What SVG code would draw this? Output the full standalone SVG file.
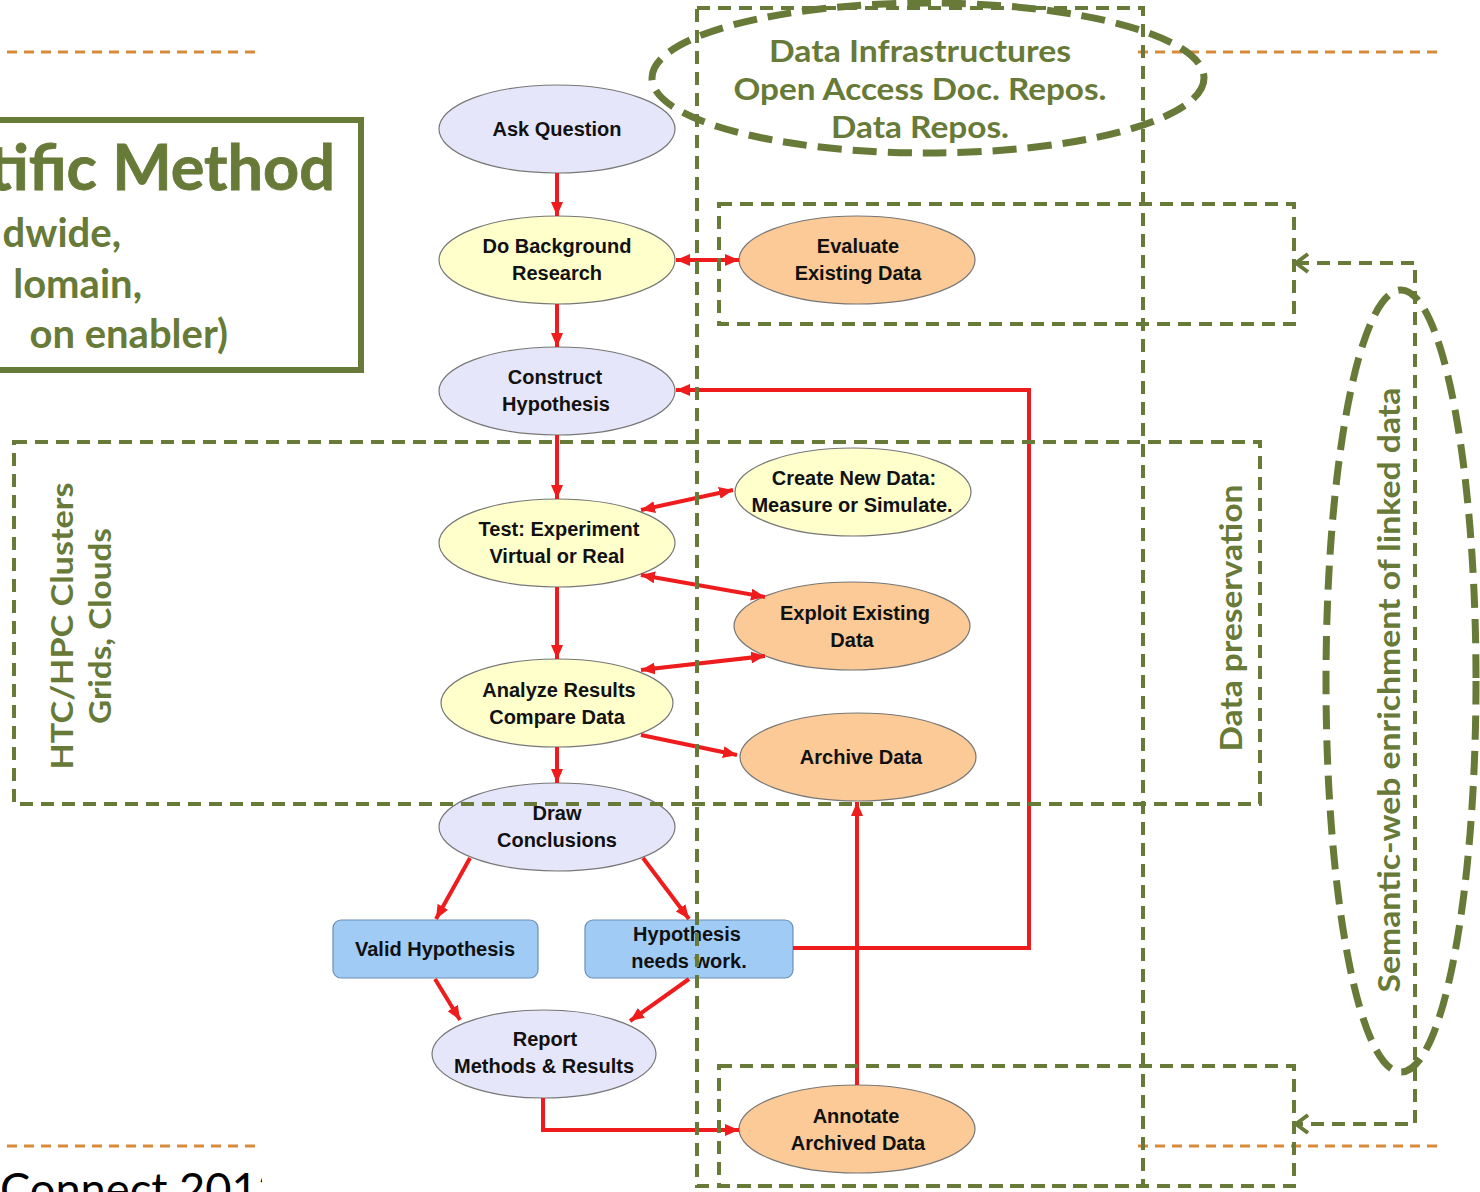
<svg xmlns="http://www.w3.org/2000/svg" width="1480" height="1192" viewBox="0 0 1480 1192">
<style>
.g{fill:#677A38;font-family:Lato,"Open Sans","DejaVu Sans",sans-serif;font-weight:700}
.gd{fill:none;stroke:#677A38;stroke-width:4;stroke-dasharray:13 8}
.ge{fill:none;stroke:#677A38;stroke-width:7;stroke-dasharray:24 11}
.or{fill:none;stroke:#D98B3A;stroke-width:3;stroke-dasharray:10 7}
.n{font-family:"Liberation Sans",Arial,sans-serif;font-weight:700;font-size:20px;fill:#111;text-anchor:middle}
.lav{fill:#E6E6FA;stroke:#777;stroke-width:1.2}
.yel{fill:#FFFFCC;stroke:#777;stroke-width:1.2}
.org{fill:#FCCA96;stroke:#777;stroke-width:1.2}
.blu{fill:#A0CBF5;stroke:#6A8FB5;stroke-width:1.2}
.r{fill:none;stroke:#EE1C1C;stroke-width:4}
</style>
<defs>
<marker id="ar" viewBox="0 0 14 12" refX="14" refY="6" markerWidth="14" markerHeight="12" markerUnits="userSpaceOnUse" orient="auto-start-reverse"><path d="M0,0 L14,6 L0,12 z" fill="#EE1C1C"/></marker>
<marker id="ga" viewBox="0 0 16 22" refX="14" refY="11" markerWidth="16" markerHeight="22" markerUnits="userSpaceOnUse" orient="auto-start-reverse"><path d="M2,2 L14,11 L2,20" fill="none" stroke="#677A38" stroke-width="4"/></marker>
<clipPath id="cl"><rect x="0" y="1150" width="262" height="50"/></clipPath>
</defs>

<g id="orange-lines">
<line class="or" x1="7" y1="52" x2="260" y2="52"/>
<line class="or" x1="1138" y1="52" x2="1437" y2="52"/>
<line class="or" x1="7" y1="1146" x2="260" y2="1146"/>
<line class="or" x1="1138" y1="1146" x2="1437" y2="1146"/>
</g>

<g id="title">
<rect x="-10" y="120" width="371" height="250" fill="none" stroke="#677A38" stroke-width="6"/>
<text class="g" x="335" y="190" font-size="63" text-anchor="end" stroke="#677A38" stroke-width="0.8">tific Method</text>
<text class="g" x="121" y="247" font-size="40" text-anchor="end">dwide,</text>
<text class="g" x="142" y="298" font-size="40" text-anchor="end">lomain,</text>
<text class="g" x="228" y="348" font-size="40" text-anchor="end">on enabler)</text>
</g>

<g id="footer">
<text x="0" y="1205" font-size="44" fill="#000" font-family="Lato,'Open Sans',sans-serif" textLength="284" lengthAdjust="spacingAndGlyphs" clip-path="url(#cl)">Connect 2013</text>
</g>

<g id="n-ask"><ellipse class="lav" cx="557" cy="129" rx="118" ry="44"/><text class="n" x="557" y="136">Ask Question</text></g>
<g id="n-bg"><ellipse class="yel" cx="557" cy="260" rx="118" ry="44"/><text class="n" x="557" y="253">Do Background</text><text class="n" x="557" y="280">Research</text></g>
<g id="n-hyp"><ellipse class="lav" cx="557" cy="391" rx="118" ry="44"/><text class="n" x="555" y="384">Construct</text><text class="n" x="556" y="411">Hypothesis</text></g>
<g id="n-test"><ellipse class="yel" cx="557" cy="543" rx="118" ry="44"/><text class="n" x="559" y="536">Test: Experiment</text><text class="n" x="557" y="563">Virtual or Real</text></g>
<g id="n-analyze"><ellipse class="yel" cx="557" cy="703" rx="116" ry="44"/><text class="n" x="559" y="697">Analyze Results</text><text class="n" x="557" y="724">Compare Data</text></g>
<g id="n-draw"><ellipse class="lav" cx="557" cy="827" rx="118" ry="44"/><text class="n" x="557" y="820">Draw</text><text class="n" x="557" y="847">Conclusions</text></g>
<g id="n-valid"><rect class="blu" x="333" y="920" width="205" height="58" rx="8"/><text class="n" x="435" y="956">Valid Hypothesis</text></g>
<g id="n-needs"><rect class="blu" x="585" y="920" width="208" height="58" rx="8"/><text class="n" x="687" y="941">Hypothesis</text><text class="n" x="689" y="968">needs work.</text></g>
<g id="n-report"><ellipse class="lav" cx="544" cy="1054" rx="112" ry="44"/><text class="n" x="545" y="1046">Report</text><text class="n" x="544" y="1073">Methods &amp; Results</text></g>
<g id="n-eval"><ellipse class="org" cx="857" cy="260" rx="118" ry="44"/><text class="n" x="858" y="253">Evaluate</text><text class="n" x="858" y="280">Existing Data</text></g>
<g id="n-create"><ellipse class="yel" cx="853" cy="492" rx="118" ry="44"/><text class="n" x="854" y="485">Create New Data:</text><text class="n" x="852" y="512">Measure or Simulate.</text></g>
<g id="n-exploit"><ellipse class="org" cx="852" cy="626" rx="118" ry="44"/><text class="n" x="855" y="620">Exploit Existing</text><text class="n" x="852" y="647">Data</text></g>
<g id="n-archive"><ellipse class="org" cx="858" cy="757" rx="118" ry="44"/><text class="n" x="861" y="764">Archive Data</text></g>
<g id="n-annotate"><ellipse class="org" cx="857" cy="1129" rx="118" ry="44"/><text class="n" x="856" y="1123">Annotate</text><text class="n" x="858" y="1150">Archived Data</text></g>

<g id="connectors">
<line class="r" x1="557" y1="173" x2="557" y2="216" marker-end="url(#ar)"/>
<line class="r" x1="557" y1="304" x2="557" y2="347" marker-end="url(#ar)"/>
<line class="r" x1="676" y1="260" x2="739" y2="260" marker-start="url(#ar)" marker-end="url(#ar)"/>
<line class="r" x1="557" y1="435" x2="557" y2="499" marker-end="url(#ar)"/>
<line class="r" x1="641" y1="510" x2="733" y2="490" marker-start="url(#ar)" marker-end="url(#ar)"/>
<line class="r" x1="641" y1="575" x2="765" y2="597" marker-start="url(#ar)" marker-end="url(#ar)"/>
<line class="r" x1="557" y1="587" x2="557" y2="659" marker-end="url(#ar)"/>
<line class="r" x1="641" y1="670" x2="765" y2="656" marker-start="url(#ar)" marker-end="url(#ar)"/>
<line class="r" x1="641" y1="735" x2="737" y2="755" marker-end="url(#ar)"/>
<line class="r" x1="557" y1="747" x2="557" y2="783" marker-end="url(#ar)"/>
<line class="r" x1="470" y1="858" x2="436" y2="919" marker-end="url(#ar)"/>
<line class="r" x1="643" y1="858" x2="689" y2="919" marker-end="url(#ar)"/>
<line class="r" x1="435" y1="979" x2="460" y2="1020" marker-end="url(#ar)"/>
<line class="r" x1="689" y1="979" x2="630" y2="1021" marker-end="url(#ar)"/>
<path class="r" d="M543,1098 V1130 H739" marker-end="url(#ar)"/>
<line class="r" x1="857" y1="1085" x2="857" y2="802" marker-end="url(#ar)"/>
<path class="r" d="M793,948 H1029 V390 H676" marker-end="url(#ar)"/>
<path d="M1296,263 H1415 V1124 H1296" fill="none" stroke="#677A38" stroke-width="4" stroke-dasharray="13 8" marker-start="url(#ga)" marker-end="url(#ga)"/>
</g>

<g id="green-overlays">
<rect class="gd" x="697" y="8" width="446" height="1178"/>
<rect class="gd" x="719" y="204" width="575" height="120"/>
<rect class="gd" x="14" y="442" width="1246" height="362"/>
<rect class="gd" x="719" y="1066" width="575" height="120"/>
<ellipse id="n-infra" class="ge" cx="928" cy="78" rx="276" ry="75"/>
<ellipse id="n-semantic" class="ge" cx="1401" cy="681" rx="75" ry="391"/>
<text class="g" x="920" y="62" font-size="31" text-anchor="middle" textLength="302" lengthAdjust="spacingAndGlyphs">Data Infrastructures</text>
<text class="g" x="920" y="100" font-size="31" text-anchor="middle" textLength="373" lengthAdjust="spacingAndGlyphs">Open Access Doc. Repos.</text>
<text class="g" x="920" y="138" font-size="31" text-anchor="middle" textLength="178" lengthAdjust="spacingAndGlyphs">Data Repos.</text>
<text class="g" transform="translate(73,626) rotate(-90)" font-size="31" text-anchor="middle" textLength="287" lengthAdjust="spacingAndGlyphs">HTC/HPC Clusters</text>
<text class="g" transform="translate(111,626) rotate(-90)" font-size="31" text-anchor="middle" textLength="196" lengthAdjust="spacingAndGlyphs">Grids, Clouds</text>
<text class="g" transform="translate(1242,618) rotate(-90)" font-size="31" text-anchor="middle" textLength="267" lengthAdjust="spacingAndGlyphs">Data preservation</text>
<text class="g" transform="translate(1400,690) rotate(-90)" font-size="31" text-anchor="middle" textLength="605" lengthAdjust="spacingAndGlyphs">Semantic-web enrichment of linked data</text>
</g>
</svg>
